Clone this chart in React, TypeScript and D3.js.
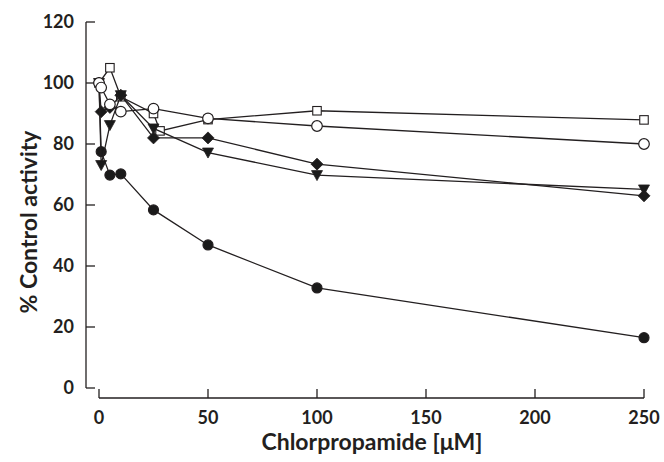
import React from "react";
import * as d3 from "d3";

const xTicks = [0, 50, 100, 150, 200, 250];
const yTicks = [0, 20, 40, 60, 80, 100, 120];

const filledCircleX = [0, 1, 5, 10, 25, 50, 100, 250];
const filledCircleY = [100, 77.5, 69.8, 70.2, 58.4, 46.9, 32.8, 16.5];

const squareX = [0, 5, 10, 25, 28, 50, 100, 250];
const squareY = [100, 105, 95.5, 90, 84.3, 88, 90.9, 87.9];

const diamondX = [0, 1, 5, 10, 25, 50, 100, 250];
const diamondY = [100, 90.6, 92, 96, 82, 82, 73.4, 63];

const triangleX = [0, 1, 5, 10, 25, 50, 100, 250];
const triangleY = [100, 73.1, 86.2, 96, 85.1, 77.2, 69.8, 65.1];

const openCircleX = [0, 1, 5, 10, 25, 50, 100, 250];
const openCircleY = [100, 98.5, 93, 90.6, 91.6, 88.4, 85.9, 80];

const series = [
  { name: "filledCircle", xs: filledCircleX, ys: filledCircleY, marker: "circle", fill: "#1a1a1a" },
  { name: "square", xs: squareX, ys: squareY, marker: "square", fill: "#fff" },
  { name: "diamond", xs: diamondX, ys: diamondY, marker: "diamond", fill: "#1a1a1a" },
  { name: "triangle", xs: triangleX, ys: triangleY, marker: "triangle", fill: "#1a1a1a" },
  { name: "openCircle", xs: openCircleX, ys: openCircleY, marker: "circle", fill: "#fff" },
];

const FONT = "Lato, 'Open Sans', sans-serif";
const INK = "#231f20";

export default function App() {
  const x = d3.scaleLinear().domain([0, 250]).range([99, 644]);
  const y = d3.scaleLinear().domain([0, 120]).range([388, 22]);
  const axisX = 86;
  const axisY = 398;
  const line = d3
    .line<[number, number]>()
    .x((d) => x(d[0]))
    .y((d) => y(d[1]));

  const marker = (kind: string, cx: number, cy: number, fill: string, key: string) => {
    const stroke = INK;
    if (kind === "circle") {
      return <circle key={key} cx={cx} cy={cy} r={fill === "#fff" ? 5.3 : 5} fill={fill} stroke={stroke} strokeWidth={1.2} />;
    }
    if (kind === "square") {
      const s = 8.5;
      return <rect key={key} x={cx - s / 2} y={cy - s / 2} width={s} height={s} fill={fill} stroke={stroke} strokeWidth={1.1} />;
    }
    if (kind === "diamond") {
      const r = 6;
      return (
        <path key={key} d={`M${cx},${cy - r}L${cx + r},${cy}L${cx},${cy + r}L${cx - r},${cy}Z`} fill={fill} stroke={stroke} strokeWidth={0.8} />
      );
    }
    const w = 5.5;
    return (
      <path key={key} d={`M${cx - w},${cy - 4.5}L${cx + w},${cy - 4.5}L${cx},${cy + 5.5}Z`} fill={fill} stroke={stroke} strokeWidth={0.8} />
    );
  };

  return (
    <svg width={664} height={462} style={{ position: "absolute", left: 0, top: 0, background: "#fff" }}>
      {/* y axis */}
      <line x1={axisX} y1={y(120)} x2={axisX} y2={y(0)} stroke={INK} strokeWidth={1.3} />
      {yTicks.map((t) => (
        <g key={"y" + t}>
          <line x1={axisX} x2={axisX + 9} y1={y(t)} y2={y(t)} stroke={INK} strokeWidth={1.3} />
          <text x={74} y={y(t)} dy="0.36em" textAnchor="end" fontFamily={FONT} fontWeight={700} fontSize={18} fill={INK}>
            {t}
          </text>
        </g>
      ))}
      {/* x axis */}
      <line x1={x(0)} y1={axisY} x2={x(250)} y2={axisY} stroke={INK} strokeWidth={1.3} />
      {xTicks.map((t) => (
        <g key={"x" + t}>
          <line x1={x(t)} x2={x(t)} y1={axisY} y2={axisY - 9} stroke={INK} strokeWidth={1.3} />
          <text x={x(t)} y={418} dy="0.36em" textAnchor="middle" fontFamily={FONT} fontWeight={700} fontSize={18} fill={INK}>
            {t}
          </text>
        </g>
      ))}
      <text x={372} y={450} textAnchor="middle" fontFamily={FONT} fontWeight={700} fontSize={23} fill={INK}>
        Chlorpropamide [μM]
      </text>
      <text
        transform={`translate(37,${222}) rotate(-90)`}
        textAnchor="middle"
        fontFamily={FONT}
        fontWeight={700}
        fontSize={23}
        fill={INK}
      >
        % Control activity
      </text>
      {series.map((s) => {
        const pts: [number, number][] = s.xs.map((v, i) => [v, s.ys[i]]);
        return (
          <g key={s.name}>
            <path d={line(pts) || ""} fill="none" stroke={INK} strokeWidth={1.3} />
            {pts.map((p, i) => marker(s.marker, x(p[0]), y(p[1]), s.fill, s.name + i))}
          </g>
        );
      })}
    </svg>
  );
}
